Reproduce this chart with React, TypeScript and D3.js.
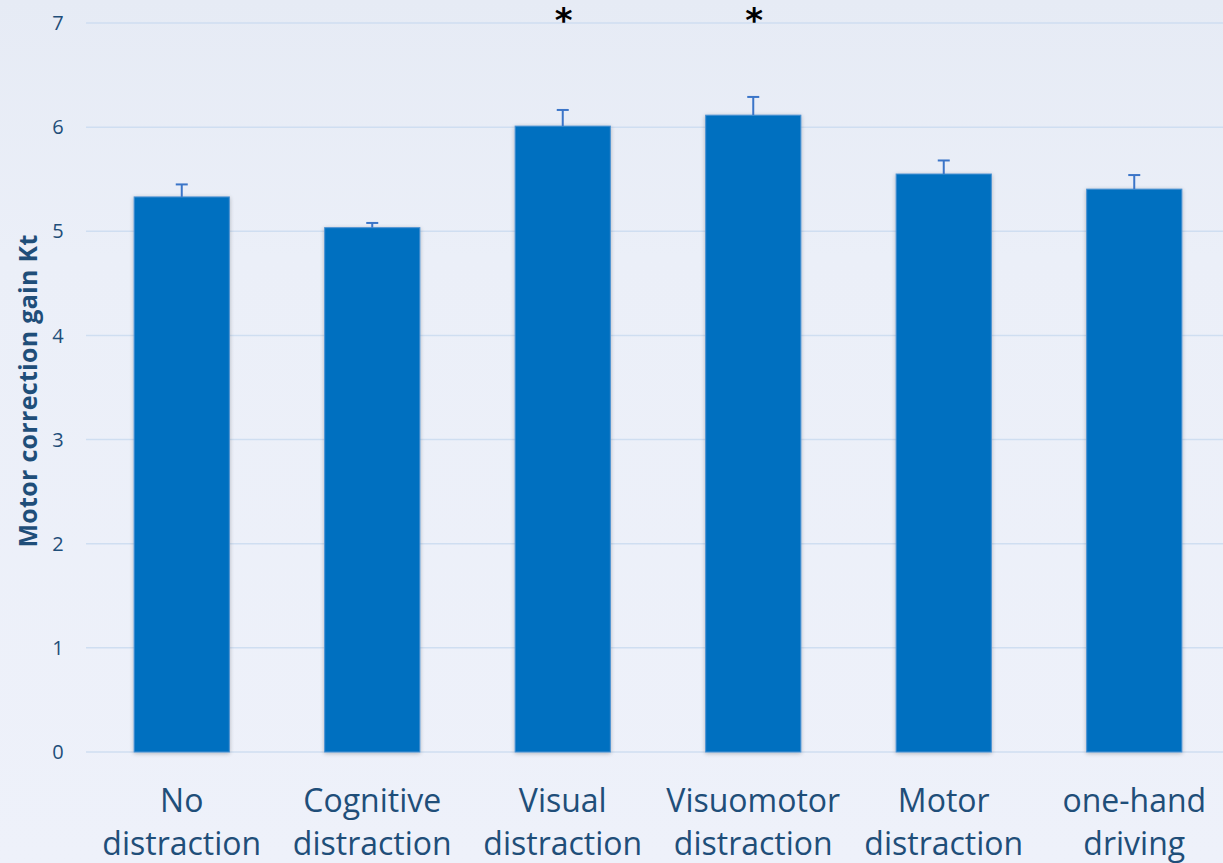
import React from "react";
import * as d3 from "d3";

const categories = [
  ["No", "distraction"],
  ["Cognitive", "distraction"],
  ["Visual", "distraction"],
  ["Visuomotor", "distraction"],
  ["Motor", "distraction"],
  ["one-hand", "driving"],
];
const values = [5.33, 5.035, 6.01, 6.115, 5.55, 5.405];
const errors = [0.12, 0.045, 0.155, 0.175, 0.13, 0.135];
const significant = [false, false, true, true, false, false];
const yTicks = [0, 1, 2, 3, 4, 5, 6, 7];
const yTitle = "Motor correction gain Kt";

const W = 1223;
const H = 863;
const TEXT = "#1F4E79";
const FONT = "'Open Sans', sans-serif";

export default function App() {
  const x = d3
    .scaleBand<number>()
    .domain(d3.range(categories.length))
    .range([86.5, 1229.5])
    .paddingInner(0.5)
    .paddingOuter(0.25);
  const y = d3.scaleLinear().domain([0, 7]).range([752, 23]);
  const bw = x.bandwidth();

  return (
    <svg
      width={W}
      height={H}
      style={{ position: "absolute", left: 0, top: 0, display: "block" }}
    >
      <defs>
        <linearGradient id="bg" x1="0" y1="0" x2="0" y2="1">
          <stop offset="0" stopColor="#e6ebf5" />
          <stop offset="0.3" stopColor="#ebeff8" />
          <stop offset="1" stopColor="#eef1fa" />
        </linearGradient>
        <filter id="shadow" x="-10%" y="-5%" width="120%" height="110%">
          <feGaussianBlur in="SourceAlpha" stdDeviation="2" />
          <feOffset dx="0" dy="1" />
          <feComponentTransfer>
            <feFuncA type="linear" slope="0.25" />
          </feComponentTransfer>
          <feMerge>
            <feMergeNode />
            <feMergeNode in="SourceGraphic" />
          </feMerge>
        </filter>
      </defs>
      <rect x={0} y={0} width={W} height={H} fill="url(#bg)" />
      {yTicks.map((t) => (
        <g key={t}>
          <line
            x1={86}
            x2={W}
            y1={y(t)}
            y2={y(t)}
            stroke="#cfdef1"
            strokeWidth={1.5}
          />
          <text
            x={58}
            y={y(t)}
            dy="0.36em"
            textAnchor="middle"
            fill={TEXT}
            fontFamily={FONT}
            fontSize={20}
          >
            {t}
          </text>
        </g>
      ))}
      <text
        transform={`translate(37,391) rotate(-90)`}
        textAnchor="middle"
        fill={TEXT}
        fontFamily={FONT}
        fontWeight="bold"
        fontSize={25}
        letterSpacing={0.3}
      >
        {yTitle}
      </text>
      {values.map((v, i) => {
        const bx = x(i)!;
        const cx = bx + bw / 2;
        const top = y(v);
        const et = y(v + errors[i]);
        return (
          <g key={i}>
            <rect
              x={bx}
              y={top}
              width={bw}
              height={y(0) - top}
              fill="#0070C0"
              stroke="#4f93d2"
              strokeWidth={1}
              filter="url(#shadow)"
            />
            <line x1={cx} x2={cx} y1={top} y2={et} stroke="#3b75c8" strokeWidth={2} />
            <line x1={cx - 6} x2={cx + 6} y1={et} y2={et} stroke="#3b75c8" strokeWidth={2} />
            {significant[i] && (
              <text
                x={cx + 1}
                y={32}
                textAnchor="middle"
                fill="#000"
                fontFamily="'DejaVu Sans', sans-serif"
                fontWeight="bold"
                fontSize={34}
              >
                *
              </text>
            )}
            {categories[i].map((line, k) => (
              <text
                key={k}
                x={cx}
                y={812 + k * 43}
                textAnchor="middle"
                fill={TEXT}
                fontFamily={FONT}
                fontSize={32}
              >
                {line}
              </text>
            ))}
          </g>
        );
      })}
    </svg>
  );
}
